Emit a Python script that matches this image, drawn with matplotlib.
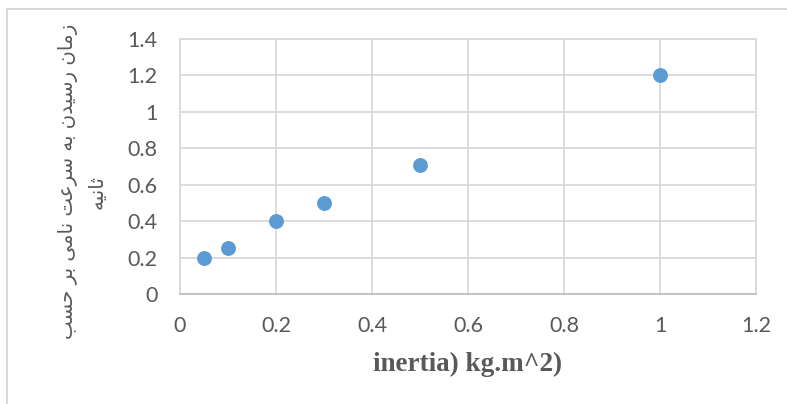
import matplotlib
matplotlib.use('Agg')
import matplotlib.pyplot as plt
from matplotlib.patches import Rectangle

# data
inertia = [0.05, 0.1, 0.2, 0.3, 0.5, 1.0]
time_s = [0.2, 0.25, 0.4, 0.5, 0.71, 1.2]
xticks = [0, 0.2, 0.4, 0.6, 0.8, 1, 1.2]
yticks = [0, 0.2, 0.4, 0.6, 0.8, 1, 1.2, 1.4]
xlabel = 'inertia) kg.m^2)'
ylabel_lines = ['زمان رسیدن به سرعت نامی بر حسب', 'ثانیه']

# arabic presentation forms: iso, fin, ini, med
forms = {
    'ز': ('\uFEAF', '\uFEB0', None, None),
    'ا': ('\uFE8D', '\uFE8E', None, None),
    'ر': ('\uFEAD', '\uFEAE', None, None),
    'د': ('\uFEA9', '\uFEAA', None, None),
    'م': ('\uFEE1', '\uFEE2', '\uFEE3', '\uFEE4'),
    'ن': ('\uFEE5', '\uFEE6', '\uFEE7', '\uFEE8'),
    'س': ('\uFEB1', '\uFEB2', '\uFEB3', '\uFEB4'),
    'ی': ('\uFBFC', '\uFBFD', '\uFBFE', '\uFBFF'),
    'ب': ('\uFE8F', '\uFE90', '\uFE91', '\uFE92'),
    'ه': ('\uFEE9', '\uFEEA', '\uFEEB', '\uFEEC'),
    'ع': ('\uFEC9', '\uFECA', '\uFECB', '\uFECC'),
    'ت': ('\uFE95', '\uFE96', '\uFE97', '\uFE98'),
    'ح': ('\uFEA1', '\uFEA2', '\uFEA3', '\uFEA4'),
    'ث': ('\uFE99', '\uFE9A', '\uFE9B', '\uFE9C'),
}


def shape(s):
    out = []
    for i, c in enumerate(s):
        if c not in forms:
            out.append(c)
            continue
        prev = s[i - 1] if i > 0 else ' '
        nxt = s[i + 1] if i < len(s) - 1 else ' '
        jp = prev in forms and forms[prev][2] is not None
        jn = forms[c][2] is not None and nxt in forms
        f = forms[c]
        if jp and jn:
            out.append(f[3])
        elif jp:
            out.append(f[1])
        elif jn:
            out.append(f[2])
        else:
            out.append(f[0])
    return ''.join(out)[::-1]


grey = '#595959'
grid = '#d9d9d9'

fig = plt.figure(figsize=(7.87, 4.04), dpi=100)
ax = fig.add_axes([0.2287, 0.2723, 0.7319, 0.6312])

ax.scatter(inertia, time_s, s=115, color='#5B9BD5', zorder=3, linewidths=0)

ax.set_xlim(0, 1.2)
ax.set_ylim(0, 1.4)
ax.set_xticks(xticks)
ax.set_xticklabels(['0', '0.2', '0.4', '0.6', '0.8', '1', '1.2'])
ax.set_yticks(yticks)
ax.set_yticklabels(['0', '0.2', '0.4', '0.6', '0.8', '1', '1.2', '1.4'])
ax.grid(True, color=grid, linewidth=1.3)
ax.set_axisbelow(True)
for side in ['top', 'right', 'left']:
    ax.spines[side].set_color(grid)
    ax.spines[side].set_linewidth(1.3)
ax.spines['bottom'].set_color('#bfbfbf')
ax.spines['bottom'].set_linewidth(1.3)
ax.tick_params(length=0, labelsize=15.5, labelcolor=grey)
ax.tick_params(axis='x', pad=16)
ax.tick_params(axis='y', pad=16)
for lab in ax.get_xticklabels() + ax.get_yticklabels():
    lab.set_family('Lato')

ax.set_xlabel(xlabel, family='Liberation Serif', fontweight='bold',
              fontsize=19.5, color=grey, va='top')
ax.xaxis.set_label_coords(0.5, -0.225)

fig.text(68 / 787, 1 - 181 / 404, shape(ylabel_lines[0]), rotation=90,
         ha='center', va='center', fontsize=14.2, color=grey,
         family=['DejaVu Sans'])
fig.text(97 / 787, 1 - 192 / 404, shape(ylabel_lines[1]), rotation=90,
         ha='center', va='center', fontsize=14.2, color=grey,
         family=['DejaVu Sans'])

# chart area border (only top and left visible)
fig.patches.append(Rectangle((7 / 787, -0.2), 1.5, 1 - 9 / 404 + 0.2,
                             transform=fig.transFigure, fill=False,
                             edgecolor=grid, linewidth=1.5))

fig.savefig('out.png', dpi=100)
